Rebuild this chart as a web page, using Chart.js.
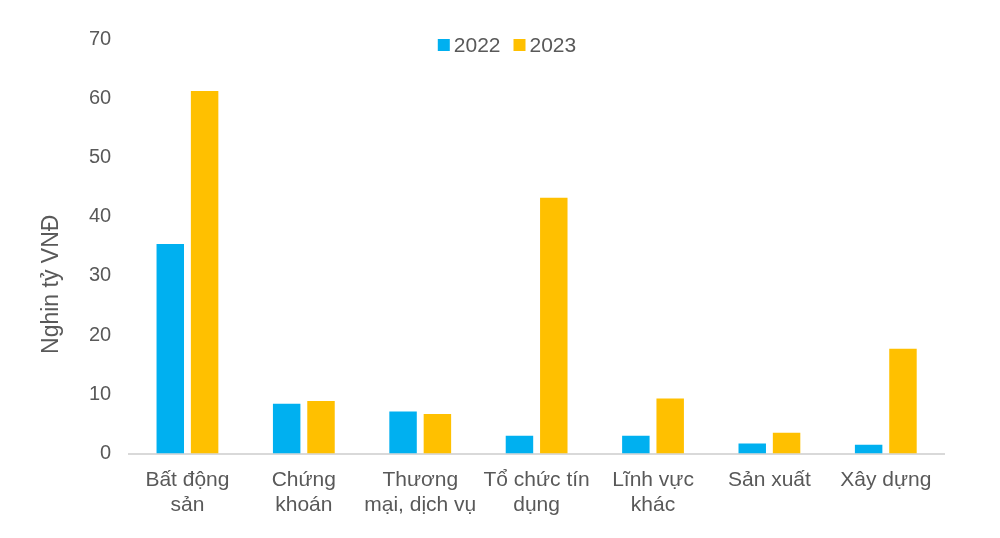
<!DOCTYPE html>
<html>
<head>
<meta charset="utf-8">
<script src="https://cdn.jsdelivr.net/npm/chart.js@4.4.0/dist/chart.umd.min.js"></script>
<style>
  html, body { margin: 0; padding: 0; background: #fff; }
  #wrap { width: 1000px; height: 538px; position: relative; }
</style>
</head>
<body>
<div id="wrap"><canvas id="c"></canvas></div>
<script>
// data
const categories = [
  ['Bất động', 'sản'],
  ['Chứng', 'khoán'],
  ['Thương', 'mại, dịch vụ'],
  ['Tổ chức tín', 'dụng'],
  ['Lĩnh vực', 'khác'],
  'Sản xuất',
  'Xây dựng'
];
const series2022 = [35.4, 8.4, 7.1, 3.0, 3.0, 1.7, 1.5];
const series2023 = [61.2, 8.9, 6.7, 43.2, 9.3, 3.5, 17.7];
const yTicks = [0, 10, 20, 30, 40, 50, 60, 70];
const yTitle = 'Nghin tỷ VNĐ';

const textColor = '#595959';
const fontFamily = 'Arial, "Liberation Sans", sans-serif';
Chart.defaults.font.family = fontFamily;
Chart.defaults.color = textColor;

// legend inside the plot top + rotated axis title, drawn by hand
const extras = {
  id: 'extras',
  afterDraw(chart) {
    const c = chart.ctx;
    const area = chart.chartArea;
    c.save();
    c.font = '21px ' + fontFamily;
    c.textBaseline = 'middle';
    const box = 12, gap = 4, itemGap = 13;
    const items = chart.data.datasets.map(ds => ({
      text: ds.label, color: ds.backgroundColor, w: box + gap + c.measureText(ds.label).width
    }));
    const total = items.reduce((s, it) => s + it.w, 0) + itemGap * (items.length - 1);
    let x = chart.width / 2 + 7 - total / 2;
    const y = area.top + 6;
    items.forEach(it => {
      c.fillStyle = it.color;
      c.fillRect(x, y - box / 2, box, box);
      c.fillStyle = textColor;
      c.fillText(it.text, x + box + gap, y + 1);
      x += it.w + itemGap;
    });
    // y title
    c.translate(52, (area.top + area.bottom) / 2 + 38);
    c.rotate(-Math.PI / 2);
    c.textAlign = 'center';
    c.font = '23px ' + fontFamily;
    c.fillText(yTitle, 0, 0);
    c.restore();
  }
};

var ctx = document.getElementById('c').getContext('2d');
new Chart(ctx, {
  type: 'bar',
  data: {
    labels: categories,
    datasets: [
      { label: '2022', data: series2022, backgroundColor: '#00B0F0',
        categoryPercentage: 0.59, barPercentage: 0.8 },
      { label: '2023', data: series2023, backgroundColor: '#FFC000',
        categoryPercentage: 0.59, barPercentage: 0.8 }
    ]
  },
  options: {
    responsive: true,
    maintainAspectRatio: false,
    animation: false,
    layout: { padding: { left: 71, right: 56, top: 39, bottom: 6 } },
    plugins: {
      tooltip: { enabled: false },
      legend: { display: false }
    },
    scales: {
      x: {
        grid: { display: false, drawTicks: false },
        border: { display: true, color: '#d9d9d9', width: 2 },
        ticks: { font: { size: 21 }, color: textColor, padding: 14, maxRotation: 0, autoSkip: false }
      },
      y: {
        min: 0, max: 70,
        afterBuildTicks: axis => { axis.ticks = yTicks.map(v => ({ value: v })); },
        grid: { display: false, drawTicks: false },
        border: { display: false },
        ticks: { font: { size: 20 }, color: textColor, padding: 18 }
      }
    }
  },
  plugins: [extras]
});
</script>
</body>
</html>
